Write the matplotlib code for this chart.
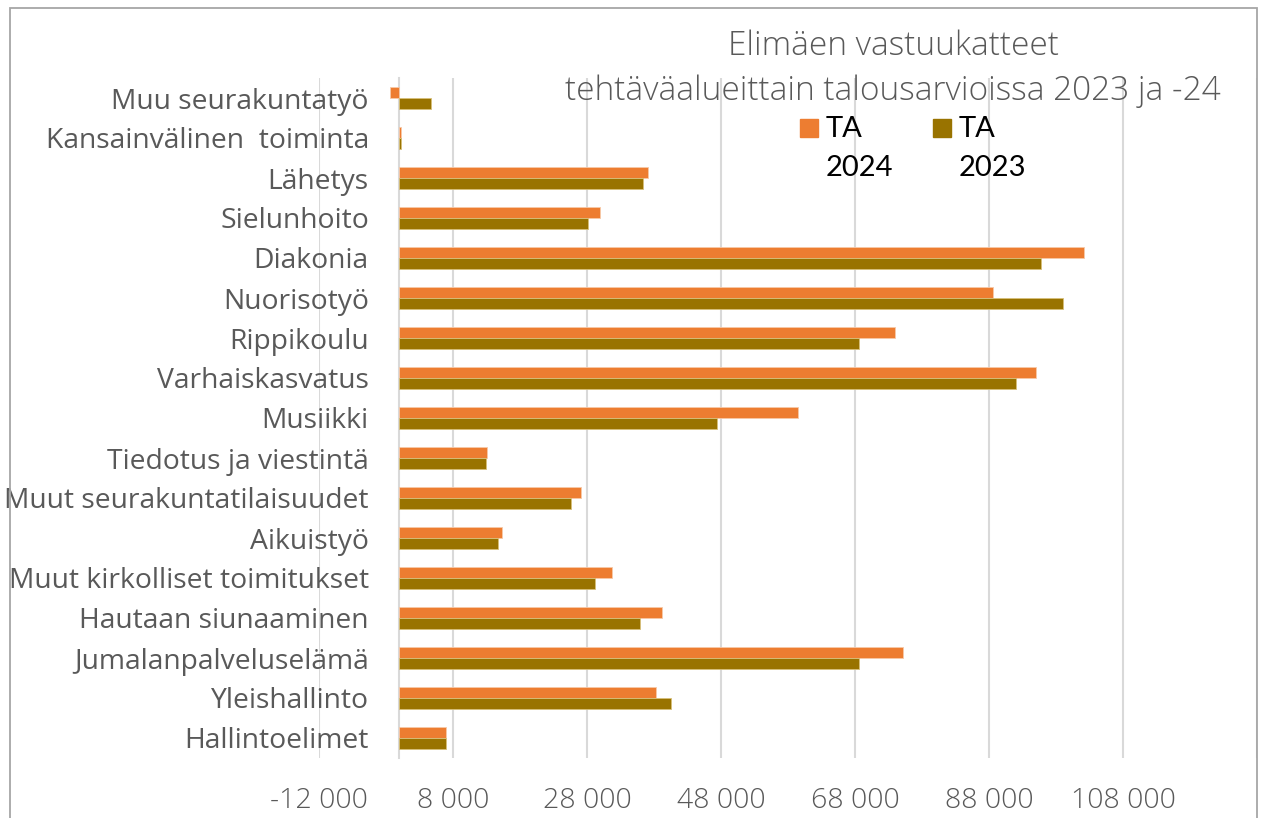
import numpy as np
import matplotlib.pyplot as plt
from matplotlib.ticker import FuncFormatter
from matplotlib.patches import Rectangle

plt.rcParams['font.family'] = ['Open Sans', 'DejaVu Sans']

# categories listed bottom -> top (Excel order)
categories = ['Hallintoelimet', 'Yleishallinto', 'Jumalanpalveluselämä', 'Hautaan siunaaminen',
              'Muut kirkolliset toimitukset', 'Aikuistyö', 'Muut seurakuntatilaisuudet',
              'Tiedotus ja viestintä', 'Musiikki', 'Varhaiskasvatus', 'Rippikoulu',
              'Nuorisotyö', 'Diakonia', 'Sielunhoito', 'Lähetys',
              'Kansainvälinen  toiminta', 'Muu seurakuntatyö']
ta_2024 = [6900, 38300, 75200, 39200, 31700, 15300, 27100, 13100, 59500, 95000,
           74000, 88600, 102200, 29900, 37100, 200, -1400]
ta_2023 = [6900, 40600, 68600, 35900, 29200, 14700, 25600, 12900, 47400, 92000,
           68600, 99000, 95800, 28100, 36400, 200, 4700]
xticks = [-12000, 8000, 28000, 48000, 68000, 88000, 108000, 128000]
series_names = ['TA\n2024', 'TA\n2023']

c24 = '#ED7D31'
c23 = '#997300'
txt = '#595959'
W, H = 1264, 818

fig = plt.figure(figsize=(12.64, 8.18), dpi=100)
ax = fig.add_axes([319 / W, 1 - 758 / H, (1257 - 319) / W, (758 - 78) / H])

y = np.arange(len(categories))
h = 0.275
ax.barh(y + h / 2, ta_2024, height=h, color=c24, edgecolor='#f7c9a8', linewidth=0.6, zorder=3)
ax.barh(y - h / 2, ta_2023, height=h, color=c23, edgecolor='#d8c07a', linewidth=0.6, zorder=3)

ax.set_xlim(-12000, 128000)
ax.set_ylim(-0.5, len(categories) - 0.5)
ax.set_xticks(xticks)
ax.xaxis.set_major_formatter(FuncFormatter(
    lambda v, p: '' if v > 110000 else f'{int(v):,}'.replace(',', ' ')))
ax.grid(axis='x', color='#D9D9D9', linewidth=1.5, zorder=0)
ax.tick_params(axis='x', length=0, pad=21, labelsize=20.5, labelcolor=txt)
for t in ax.get_xticklabels():
    t.set_fontweight('light')

ax.set_yticks(y)
ax.set_yticklabels(categories, fontweight='light')
ax.spines['left'].set_position(('data', 0))
ax.spines['left'].set_color('#D9D9D9')
ax.spines['left'].set_linewidth(1.5)
for s in ['top', 'right', 'bottom']:
    ax.spines[s].set_visible(False)
ax.tick_params(axis='y', length=0, pad=22, labelsize=20.3, labelcolor=txt)

fig.text(893 / W, 1 - 46 / H, 'Elimäen vastuukatteet', ha='center', va='center',
         fontsize=24, color=txt, fontweight='light')
fig.text(893 / W, 1 - 91 / H, 'tehtäväalueittain talousarvioissa 2023 ja -24',
         ha='center', va='center', fontsize=24, color=txt, fontweight='light')

# legend drawn by hand: square beside first line of a two-line label
for x0, col, name in [(800, c24, series_names[0]), (933, c23, series_names[1])]:
    fig.patches.append(Rectangle((x0 / W, 1 - 137 / H), 18 / W, 18 / H,
                                 transform=fig.transFigure, color=col))
    for k, line in enumerate(name.split('\n')):
        fig.text((x0 + 26) / W, 1 - (137 + 39 * k) / H, line, ha='left', va='baseline',
                 fontsize=21, color='black', family=['Lato', 'DejaVu Sans'])

fig.patches.append(Rectangle((10 / W, -0.01), (1257 - 10) / W, 1 - 8 / H + 0.01,
                             transform=fig.transFigure, fill=False, edgecolor='#A6A6A6',
                             linewidth=1.3))

fig.savefig('out.png', dpi=100)
